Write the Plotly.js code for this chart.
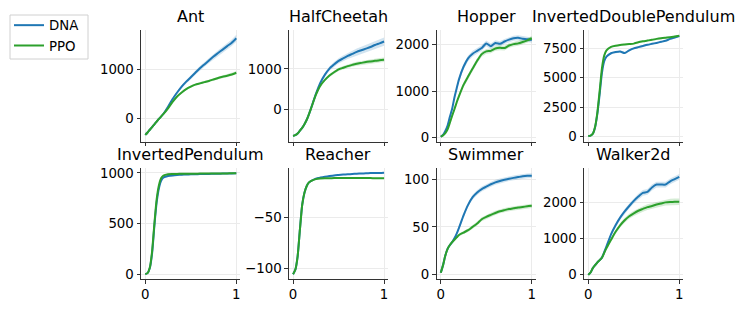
<!DOCTYPE html>
<html><head><meta charset="utf-8">
<script src="https://cdn.plot.ly/plotly-3.0.1.min.js"></script>
<style>html,body{margin:0;padding:0;background:#fff;}#chart{width:748px;height:312px;}</style>
</head><body><div id="chart"></div>
<script>
// ---- data ----
const steps = [0, 0.025, 0.05, 0.075, 0.1, 0.125, 0.15, 0.175, 0.2, 0.25, 0.3, 0.35, 0.4, 0.45, 0.5, 0.55, 0.6, 0.65, 0.7, 0.75, 0.8, 0.85, 0.9, 0.95, 1];
const seriesNames = ['DNA', 'PPO'];
const envNames = ['Ant', 'HalfCheetah', 'Hopper', 'InvertedDoublePendulum', 'InvertedPendulum', 'Reacher', 'Swimmer', 'Walker2d'];
const xTicks = [0, 1];

const antDNA = [-330,-280,-225,-170,-115,-60,-5,45,100,240,400,530,650,750,840,930,1020,1100,1180,1260,1330,1400,1470,1540,1630];
const antPPO = [-330,-280,-225,-170,-115,-60,-5,45,95,210,340,450,530,600,650,690,715,740,765,795,825,850,870,895,930];
const antDNABand = [10,10,10,10,10,12,14,16,18,22,26,30,33,36,39,42,45,48,51,54,57,60,63,66,70];
const antPPOBand = [10,10,10,10,10,11,12,13,14,16,18,19,20,21,22,23,24,25,26,27,28,29,30,31,32];

const cheetahDNA = [-650,-630,-590,-520,-450,-360,-250,-110,50,380,660,860,1010,1110,1200,1260,1320,1370,1420,1460,1500,1540,1590,1630,1675];
const cheetahPPO = [-650,-630,-590,-520,-450,-360,-250,-110,45,360,590,730,840,920,990,1030,1070,1100,1130,1150,1170,1185,1200,1215,1225];
const cheetahDNABand = [15,15,15,15,15,16,18,20,24,32,40,48,55,60,65,70,74,78,82,86,90,93,96,99,102];
const cheetahPPOBand = [15,15,15,15,15,16,17,18,20,24,28,32,35,38,40,42,44,46,48,50,51,52,53,54,55];

const hopperDNA = [20,60,145,260,450,620,860,1060,1250,1520,1700,1800,1860,1920,2020,1960,2030,2010,2060,2100,2130,2140,2120,2110,2090];
const hopperPPO = [20,50,100,180,320,470,610,760,890,1130,1310,1480,1650,1790,1850,1860,1910,1925,1920,1975,2005,2020,2050,2085,2130];
const hopperDNABand = [10,15,20,30,40,50,55,60,60,60,60,60,60,60,60,60,60,55,55,55,55,55,55,55,55];
const hopperPPOBand = [10,15,20,30,40,45,50,55,55,55,55,55,55,55,50,50,50,50,50,50,50,50,50,50,50];

const idpDNA = [50,90,250,800,1950,3600,5400,6400,6800,7080,7180,7230,7100,7330,7500,7600,7700,7800,7880,7960,8050,8140,8300,8420,8540];
const idpPPO = [50,90,260,850,2070,3880,5800,6880,7330,7620,7720,7780,7820,7860,7900,8020,8100,8160,8220,8300,8360,8400,8440,8500,8560];
const idpDNABand = [20,20,30,50,80,110,120,110,100,90,85,85,85,85,80,80,80,80,80,75,75,75,75,75,75];
const idpPPOBand = [20,20,30,50,70,90,100,90,80,70,65,65,65,65,60,60,60,60,60,60,60,60,60,60,60];

const ipDNA = [5,15,65,210,480,710,850,925,955,970,976,980,983,985,987,988,989,990,991,992,993,994,995,996,997];
const ipPPO = [5,15,70,230,500,740,880,950,975,988,990,991,992,992,993,993,994,994,995,995,995,996,996,997,997];
const ipDNABand = [3,3,5,8,12,14,14,13,12,10,8,7,6,6,5,5,5,4,4,4,4,3,3,3,3];
const ipPPOBand = [3,3,5,7,10,12,12,10,8,6,5,4,4,4,3,3,3,3,3,3,3,3,3,3,3];

const reacherDNA = [-105.5,-101,-88,-62,-38,-26,-19.5,-16,-14.5,-12.3,-11.3,-10.5,-9.8,-9.2,-8.8,-8.4,-8.1,-7.8,-7.5,-7.3,-7.1,-6.9,-6.8,-6.7,-6.5];
const reacherPPO = [-105.5,-101,-88,-62,-38,-26,-19.5,-16,-14.5,-12.8,-12.2,-12,-11.9,-11.8,-11.8,-11.8,-11.8,-11.8,-11.8,-11.8,-11.8,-11.8,-11.9,-11.9,-11.9];
const reacherDNABand = [0.8,0.9,1.2,1.5,1.4,1.0,0.8,0.6,0.5,0.45,0.45,0.45,0.45,0.45,0.45,0.45,0.45,0.45,0.45,0.45,0.45,0.45,0.45,0.45,0.45];
const reacherPPOBand = [0.8,0.9,1.2,1.4,1.3,0.9,0.7,0.5,0.4,0.35,0.35,0.35,0.35,0.35,0.35,0.35,0.35,0.35,0.35,0.35,0.35,0.35,0.35,0.35,0.35];

const swimmerDNA = [2,10,20,27,31,34,38,43,49,62,73,81,86,89.5,92,94.5,96.5,98,99.2,100.3,101.2,102,102.8,103.3,103.5];
const swimmerPPO = [2,10,20,27,31,34,36.5,39,41.5,44,46.5,50,53.5,58,60.5,62.5,64.5,66.3,67.5,68.6,69.4,70.2,70.8,71.5,72];
const swimmerDNABand = [0.3,0.5,0.8,1.0,1.1,1.2,1.4,1.6,1.8,2.1,2.3,2.5,2.6,2.6,2.6,2.6,2.6,2.6,2.6,2.5,2.5,2.5,2.5,2.5,2.5];
const swimmerPPOBand = [0.3,0.5,0.8,1.0,1.1,1.2,1.3,1.4,1.5,1.6,1.8,1.9,2.0,2.1,2.1,2.2,2.2,2.2,2.2,2.2,2.2,2.2,2.2,2.2,2.2];

const walkerDNA = [-5,60,180,260,340,400,470,620,780,1110,1360,1570,1740,1890,2030,2150,2250,2280,2400,2480,2480,2480,2570,2630,2690];
const walkerPPO = [-5,60,180,260,340,400,465,600,730,960,1180,1360,1500,1610,1690,1760,1810,1860,1890,1930,1960,1990,2000,2005,2010];
const walkerDNABand = [10,15,20,25,30,35,40,45,50,55,60,65,70,72,74,76,78,80,80,80,80,80,80,80,80];
const walkerPPOBand = [10,15,20,25,30,35,40,45,50,55,60,65,68,70,72,74,76,78,80,82,84,86,88,90,90];

const yTicks = [[0,1000],[0,1000],[0,1000,2000],[0,2500,5000,7500],[0,500,1000],[-100,-50],[0,50,100],[0,1000,2000]];

const dnaSeries = [antDNA, cheetahDNA, hopperDNA, idpDNA, ipDNA, reacherDNA, swimmerDNA, walkerDNA];
const ppoSeries = [antPPO, cheetahPPO, hopperPPO, idpPPO, ipPPO, reacherPPO, swimmerPPO, walkerPPO];
const dnaBands = [antDNABand, cheetahDNABand, hopperDNABand, idpDNABand, ipDNABand, reacherDNABand, swimmerDNABand, walkerDNABand];
const ppoBands = [antPPOBand, cheetahPPOBand, hopperPPOBand, idpPPOBand, ipPPOBand, reacherPPOBand, swimmerPPOBand, walkerPPOBand];

// ---- layout config ----
const W = 748, H = 312;
const colPx = [[141, 240.1], [288.8, 387.9], [436.5, 535.6], [584, 683.1]];
const rowPx = [[30, 141.7], [168, 279]];
const yRanges = [[-467,1797],[-790,1959],[-86,2307],[-427,9055],[-43,1049],[-110.1,-1.95],[-4.5,111.5],[-119,2936]];
const xRange = [-0.047, 1.042];
const colors = ['#1f77b4', '#2ca02c'];
const fills = ['rgba(31,119,180,0.2)', 'rgba(44,160,44,0.2)'];
const FONT = 'DejaVu Sans, sans-serif';
const legendBox = [10, 15, 88, 59]; // px: left, top, right, bottom

const traces = [];
const layout = {
  width: W, height: H,
  margin: {l: 0, r: 0, t: 0, b: 0},
  paper_bgcolor: '#fff', plot_bgcolor: '#fff',
  font: {family: FONT, size: 13.33, color: '#000'},
  showlegend: true,
  legend: {x: 9/W, y: 1 - 10/H, xanchor: 'left', yanchor: 'top',
           bgcolor: 'rgba(0,0,0,0)', borderwidth: 0,
           font: {family: FONT, size: 13.33, color: '#000'}, tracegroupgap: 0},
  shapes: [{type: 'rect', xref: 'paper', yref: 'paper', layer: 'below',
            x0: legendBox[0]/W, x1: legendBox[2]/W, y0: 1 - legendBox[3]/H, y1: 1 - legendBox[1]/H,
            line: {color: '#d0d0d0', width: 1}, fillcolor: '#fff'}],
  annotations: []
};

for (let i = 0; i < 8; i++) {
  const row = Math.floor(i / 4), col = i % 4;
  const xa = i === 0 ? 'x' : 'x' + (i + 1);
  const ya = i === 0 ? 'y' : 'y' + (i + 1);
  const xk = i === 0 ? 'xaxis' : 'xaxis' + (i + 1);
  const yk = i === 0 ? 'yaxis' : 'yaxis' + (i + 1);
  const xd = [colPx[col][0] / W, colPx[col][1] / W];
  const yd = [1 - rowPx[row][1] / H, 1 - rowPx[row][0] / H];
  const common = {showline: true, linecolor: '#333', linewidth: 1, ticks: 'outside', ticklen: 3.5,
    tickwidth: 1, tickcolor: '#333', showgrid: true, gridcolor: '#ebebeb', gridwidth: 1,
    zeroline: false, tickfont: {family: FONT, size: 13.33, color: '#000'}, fixedrange: true};
  layout[xk] = Object.assign({}, common, {domain: xd, anchor: ya, range: xRange,
    tickmode: 'array', tickvals: xTicks, ticktext: xTicks.map(String), showticklabels: row === 1});
  layout[yk] = Object.assign({}, common, {domain: yd, anchor: xa, range: yRanges[i],
    tickmode: 'array', tickvals: yTicks[i], ticktext: yTicks[i].map(v => v < 0 ? '\u2212' + Math.abs(v) : String(v))});
  layout.annotations.push({text: envNames[i], xref: 'paper', yref: 'paper',
    x: (xd[0] + xd[1]) / 2, y: 1 - (rowPx[row][0] - 14) / H, xanchor: 'center', yanchor: 'middle',
    showarrow: false, font: {family: FONT, size: 16, color: '#000'}});

  const data = [dnaSeries[i], ppoSeries[i]];
  const bands = [dnaBands[i], ppoBands[i]];
  for (let s = 0; s < 2; s++) {
    const up = data[s].map((v, k) => v + bands[s][k]);
    const lo = data[s].map((v, k) => v - bands[s][k]);
    traces.push({x: steps.concat(steps.slice().reverse()), y: up.concat(lo.slice().reverse()),
      xaxis: xa, yaxis: ya, type: 'scatter', mode: 'lines', fill: 'toself', fillcolor: fills[s],
      line: {width: 0, color: fills[s]}, hoverinfo: 'skip', showlegend: false});
  }
  for (let s = 0; s < 2; s++) {
    traces.push({x: steps, y: data[s], xaxis: xa, yaxis: ya, type: 'scatter', mode: 'lines',
      name: seriesNames[s], legendgroup: seriesNames[s], showlegend: i === 0,
      line: {color: colors[s], width: 2, shape: 'spline', smoothing: 0.6}});
  }
}

Plotly.newPlot('chart', traces, layout, {staticPlot: true, displayModeBar: false});
</script>
</body></html>
